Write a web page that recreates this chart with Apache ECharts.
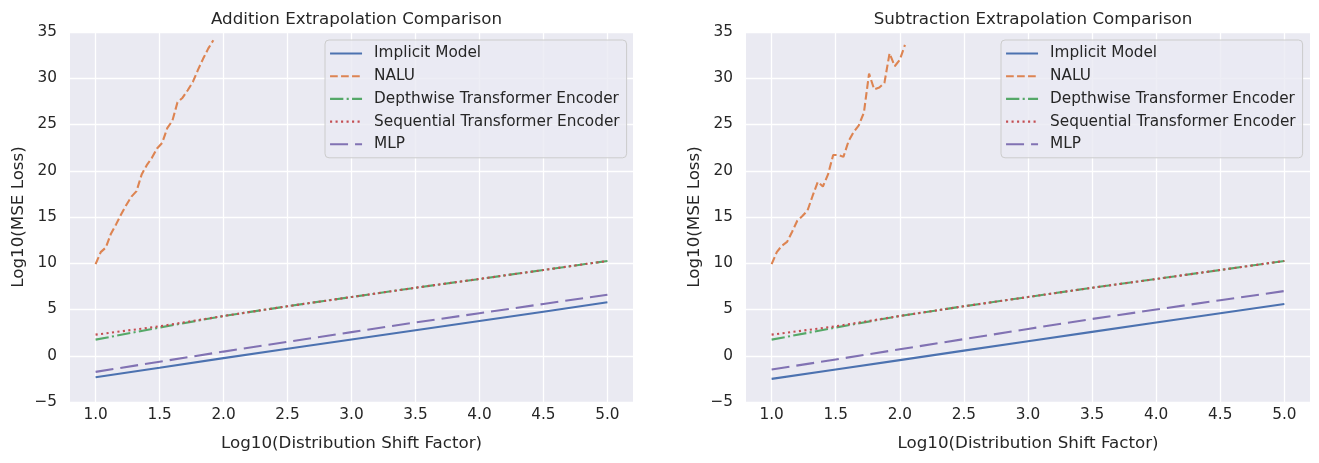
<!DOCTYPE html>
<html lang="en">
<head>
    <meta charset="UTF-8">
    <script src="https://cdn.jsdelivr.net/npm/echarts@6/dist/echarts.min.js"></script>
    <title>Extrapolation Comparison</title>
    <style>
        html, body { margin: 0; padding: 0; background: #fff; }
        #container { width: 1319px; height: 463px; }
    </style>
</head>
<body>
<div id="container"></div>
<script type="application/javascript">
    // x positions (Log10 of distribution shift factor)
    const xLinear = [1.0, 1.5, 2.0, 2.5, 3.0, 3.5, 4.0, 4.5, 5.0];
    const xNaluAdd = [1.00, 1.04, 1.08, 1.12, 1.16, 1.20, 1.24, 1.28, 1.32, 1.36, 1.40, 1.44,
        1.48, 1.52, 1.56, 1.60, 1.64, 1.68, 1.72, 1.76, 1.80, 1.84, 1.88, 1.92];
    const xNaluSub = [1.00, 1.04, 1.08, 1.12, 1.16, 1.20, 1.24, 1.28, 1.32, 1.36, 1.40, 1.44,
        1.48, 1.52, 1.56, 1.60, 1.64, 1.68, 1.72, 1.76, 1.80, 1.84, 1.88, 1.92, 1.96, 2.00, 2.04];
    const xTicks = [1.0, 1.5, 2.0, 2.5, 3.0, 3.5, 4.0, 4.5, 5.0];

    // addition
    const addImplicit = [-2.32, -1.3, -0.26, 0.75, 1.75, 2.75, 3.75, 4.76, 5.78];
    const addNalu = [9.9, 11.2, 11.7, 13.2, 14.2, 15.3, 16.3, 17.2, 17.8, 19.6, 20.6, 21.4,
        22.4, 23.0, 24.6, 25.4, 27.4, 27.9, 28.7, 29.6, 30.9, 32.1, 33.2, 34.1];
    const addDepthwise = [1.74, 3.05, 4.3, 5.35, 6.35, 7.35, 8.3, 9.27, 10.25];
    const addSequential = [2.28, 3.18, 4.3, 5.35, 6.35, 7.35, 8.3, 9.27, 10.25];
    const addMlp = [-1.74, -0.65, 0.45, 1.5, 2.55, 3.6, 4.6, 5.6, 6.6];

    // subtraction
    const subImplicit = [-2.5, -1.48, -0.47, 0.55, 1.57, 2.58, 3.6, 4.6, 5.6];
    const subNalu = [9.9, 11.2, 11.9, 12.3, 13.4, 14.6, 15.1, 15.7, 17.3, 18.8, 18.3, 19.6,
        21.7, 21.7, 21.5, 23.2, 24.2, 24.9, 26.3, 30.5, 28.8, 29.0, 29.5, 32.7, 31.3, 32.0, 33.6];
    const subDepthwise = [1.74, 3.05, 4.3, 5.35, 6.35, 7.35, 8.3, 9.27, 10.25];
    const subSequential = [2.28, 3.18, 4.3, 5.35, 6.35, 7.35, 8.3, 9.27, 10.25];
    const subMlp = [-1.49, -0.4, 0.7, 1.8, 2.9, 3.98, 5.0, 6.0, 7.0];

    const names = ['Implicit Model', 'NALU', 'Depthwise Transformer Encoder',
        'Sequential Transformer Encoder', 'MLP'];
    const colors = ['#4C72B0', '#DD8452', '#55A868', '#C44E52', '#8172B3'];
    const dashes = ['solid', [7.7, 3.3], [13.3, 3.3, 2.1, 3.3], [2.1, 3.4], [18, 7]];

    const font = 'DejaVu Sans';
    const ink = '#262626';

    function zip(xs, ys) {
        return xs.map((x, i) => [x, ys[i]]);
    }

    function xAxisFor(gridIndex) {
        return {
            type: 'value', gridIndex: gridIndex, min: 0.8, max: 5.2,
            name: 'Log10(Distribution Shift Factor)', nameLocation: 'middle', nameGap: 33,
            nameTextStyle: {fontFamily: font, fontSize: 16.7, color: ink},
            axisLine: {show: false}, axisTick: {show: false, customValues: xTicks},
            axisLabel: {
                customValues: xTicks, margin: 6, fontFamily: font, fontSize: 15.3, color: ink,
                formatter: v => v.toFixed(1)
            },
            splitLine: {show: true, lineStyle: {color: '#ffffff', width: 1.3}}
        };
    }

    function yAxisFor(gridIndex) {
        return {
            type: 'value', gridIndex: gridIndex, min: -5, max: 35, interval: 5,
            name: 'Log10(MSE Loss)', nameLocation: 'middle', nameGap: 43,
            nameTextStyle: {fontFamily: font, fontSize: 16.7, color: ink},
            axisLine: {show: false}, axisTick: {show: false},
            axisLabel: {
                margin: 13, fontFamily: font, fontSize: 15.3, color: ink,
                formatter: v => v < 0 ? '\u2212' + Math.abs(v) : String(v)
            },
            splitLine: {show: true, lineStyle: {color: '#ffffff', width: 1.3}}
        };
    }

    function legendFor(left) {
        return {
            left: left, top: 40, orient: 'vertical', data: names,
            itemWidth: 32, itemHeight: 15, itemGap: 7.7,
            padding: [6, 7, 6, 4],
            backgroundColor: 'rgba(234,234,242,0.8)', borderColor: '#cccccc', borderWidth: 1,
            borderRadius: 4,
            itemStyle: {opacity: 0},
            lineStyle: {width: 2.1},
            textStyle: {fontFamily: font, fontSize: 15.3, color: ink, lineHeight: 15, padding: [0, 0, 0, 7]}
        };
    }

    function lineSeries(k, gridIndex, xs, ys) {
        return {
            name: names[k], type: 'line', xAxisIndex: gridIndex, yAxisIndex: gridIndex,
            data: zip(xs, ys), symbol: 'none', silent: true, animation: false,
            lineStyle: {color: colors[k], width: 2.1, type: dashes[k]},
            itemStyle: {color: colors[k]}
        };
    }

    const chart = echarts.init(document.getElementById('container'), null, {renderer: 'canvas'});

    const option = {
        animation: false,
        title: [
            {text: 'Addition Extrapolation Comparison', left: 351.5, top: 6, textAlign: 'center',
                textStyle: {fontFamily: font, fontSize: 16.7, fontWeight: 'normal', color: ink}},
            {text: 'Subtraction Extrapolation Comparison', left: 1028, top: 6, textAlign: 'center',
                textStyle: {fontFamily: font, fontSize: 16.7, fontWeight: 'normal', color: ink}}
        ],
        legend: [legendFor(325), legendFor(1001)],
        grid: [
            {left: 70, top: 32, width: 563, height: 370, show: true, backgroundColor: '#EAEAF2', borderWidth: 0},
            {left: 746, top: 32, width: 564, height: 370, show: true, backgroundColor: '#EAEAF2', borderWidth: 0}
        ],
        xAxis: [xAxisFor(0), xAxisFor(1)],
        yAxis: [yAxisFor(0), yAxisFor(1)],
        series: [
            lineSeries(0, 0, xLinear, addImplicit),
            lineSeries(1, 0, xNaluAdd, addNalu),
            lineSeries(2, 0, xLinear, addDepthwise),
            lineSeries(3, 0, xLinear, addSequential),
            lineSeries(4, 0, xLinear, addMlp),
            lineSeries(0, 1, xLinear, subImplicit),
            lineSeries(1, 1, xNaluSub, subNalu),
            lineSeries(2, 1, xLinear, subDepthwise),
            lineSeries(3, 1, xLinear, subSequential),
            lineSeries(4, 1, xLinear, subMlp)
        ]
    };

    chart.setOption(option);
</script>
</body>
</html>
